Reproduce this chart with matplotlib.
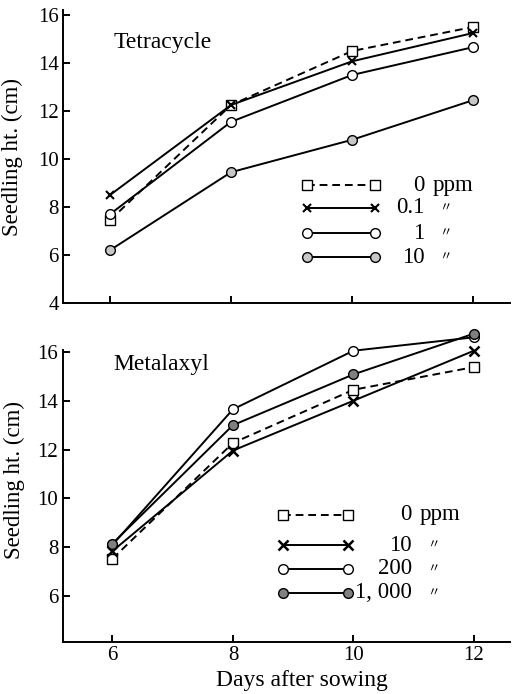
import numpy as np
import matplotlib
matplotlib.use('Agg')
import matplotlib.pyplot as plt

plt.rcParams['font.family'] = ['Liberation Serif', 'DejaVu Serif']

days = [6, 8, 10, 12]

# Tetracycle, seedling height (cm)
tet_labels = ['0', '0.1', '1', '10']
tet_0 = [7.45, 12.25, 14.5, 15.5]
tet_01 = [8.5, 12.25, 14.07, 15.25]
tet_1 = [7.7, 11.55, 13.5, 14.66]
tet_10 = [6.2, 9.45, 10.8, 12.45]

# Metalaxyl, seedling height (cm)
met_labels = ['0', '10', '200', '1, 000']
met_0 = [7.53, 12.27, 14.45, 15.38]
met_10 = [7.84, 11.96, 14.0, 16.05]
met_200 = [8.1, 13.65, 16.05, 16.6]
met_1000 = [8.15, 13.0, 15.08, 16.75]

# marker / line styles for the four series in each panel
tet_styles = [
    dict(ls=(0, (4, 2.5)), marker='s', mfc='white', ms=6.5),
    dict(ls='-', marker='x', mfc='black', ms=6, mew=1.5),
    dict(ls='-', marker='o', mfc='white', ms=7),
    dict(ls='-', marker='o', mfc='0.78', ms=7),
]
met_styles = [
    dict(ls=(0, (4, 2.5)), marker='s', mfc='white', ms=6.5),
    dict(ls='-', marker='x', mfc='black', ms=7, mew=1.8),
    dict(ls='-', marker='o', mfc='white', ms=7),
    dict(ls='-', marker='o', mfc='0.5', ms=7),
]

fig = plt.figure(figsize=(5.15, 6.94), dpi=100)
ax1 = fig.add_axes([63/515, (694-303)/694, 447/515, (303-10.2)/694])
ax2 = fig.add_axes([62.5/515, (694-642)/694, 447.5/515, (642-350)/694])


def style_axes(ax):
    for s in ['top', 'right']:
        ax.spines[s].set_visible(False)
    for s in ['left', 'bottom']:
        ax.spines[s].set_linewidth(1.4)
    ax.tick_params(direction='in', length=5, width=1.4, labelsize=15, pad=3)
    ax.set_xticks(days)


def draw_panel(ax, series, styles, labels, leg):
    for vals, st in zip(series, styles):
        ax.plot(days, vals, color='black', lw=1.4, mec='black', clip_on=False,
                zorder=3, **st)
    # legend drawn by hand, to keep the printed layout
    x0, x1, xnum, xppm, xmark, rows = leg
    for i, (st, lab) in enumerate(zip(styles, labels)):
        y = rows[i]
        ax.plot([x0, x1], [y, y], transform=ax.transAxes, color='black',
                lw=1.4, mec='black', clip_on=False, **st)
        ax.text(xnum, y, lab, transform=ax.transAxes, ha='right', va='center',
                fontsize=16.5)
        if i == 0:
            ax.text(xppm, y, 'ppm', transform=ax.transAxes, ha='left',
                    va='center', fontsize=16.5)
        else:
            ax.text(xmark, y, '〃', transform=ax.transAxes, ha='center',
                    va='center', fontsize=9,
                    family=['Noto Sans CJK JP', 'DejaVu Sans'])


# top panel
style_axes(ax1)
ax1.set_xlim(5.223, 12.61)
ax1.set_ylim(4, 16.2)
ax1.set_yticks(np.arange(4, 17, 2))
ax1.set_xticklabels([])
draw_panel(ax1, [tet_0, tet_01, tet_1, tet_10], tet_styles, tet_labels,
           (0.546, 0.698, 0.808, 0.826, 0.855, [0.403, 0.325, 0.239, 0.157]))
ax1.text(0.112, 0.888, 'Tetracycle', transform=ax1.transAxes, fontsize=17,
         ha='left', va='center')
ax1.set_ylabel('Seedling ht. (cm)', fontsize=16.5)
ax1.yaxis.set_label_coords(-0.09, 0.5)

# bottom panel
style_axes(ax2)
ax2.set_xlim(5.17, 12.6)
ax2.set_ylim(4.115, 16.08)
ax2.set_yticks(np.arange(6, 17, 2))
draw_panel(ax2, [met_0, met_10, met_200, met_1000], met_styles, met_labels,
           (0.493, 0.638, 0.781, 0.797, 0.828, [0.435, 0.332, 0.25, 0.168]))
ax2.text(0.114, 0.949, 'Metalaxyl', transform=ax2.transAxes, fontsize=17,
         ha='left', va='center')
ax2.set_ylabel('Seedling ht. (cm)', fontsize=16.5)
ax2.yaxis.set_label_coords(-0.083, 0.555)
ax2.set_xlabel('Days after sowing', fontsize=17)
ax2.xaxis.set_label_coords(0.536, -0.095)

plt.savefig('out.png', dpi=100)
